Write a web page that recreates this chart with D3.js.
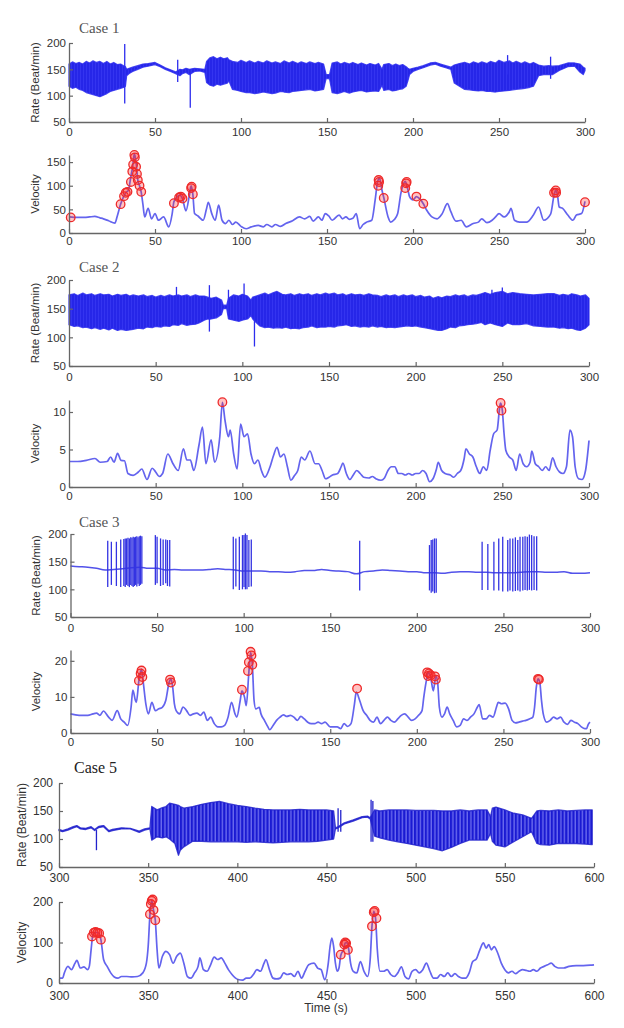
<!DOCTYPE html>
<html><head><meta charset="utf-8">
<script src="https://cdn.jsdelivr.net/npm/d3@7"></script>
<style>
html,body{margin:0;padding:0;background:#fff;}
svg{display:block;}
.tick text{font-family:"Liberation Sans",Arial,sans-serif;fill:#333;}
</style></head>
<body><svg id="chart" width="624" height="1028"></svg>
<script>
// ---------------- DATA ----------------
const caseTitles = ["Case 1", "Case 2", "Case 3", "Case 5"];
const xTicks300 = [0, 50, 100, 150, 200, 250, 300];
const xTicks600 = [300, 350, 400, 450, 500, 550, 600];
const rateTicks = [50, 100, 150, 200];
const case1VelTicks = [0, 50, 100, 150];
const case2VelTicks = [0, 5, 10];
const case3VelTicks = [0, 10, 20];
const case5VelTicks = [0, 100, 200];

// Rate envelopes: [time, low, high]
const case1RateBand = [[0,118,160],[2,114,164],[4,116,161],[6,112,163],[8,110,160],[10,106,165],[12,104,162],[14,102,166],[16,100,163],[18,98,165],[20,101,161],[22,104,165],[24,108,160],[26,110,163],[28,112,159],[30,114,160],[32,116,156],[32.8,118,155],[33.5,138,150],[35,142,152],[37,146,154],[40,150,157],[43,154,160],[46,156,161],[50,159,163],[53,155,158],[56,150,153],[59,146,149],[62,142,145],[64.5,138,150],[66,142,149],[68,144,152],[70,140,150],[73,146,152],[76,147,151],[79,144,150],[80,125,165],[82,120,172],[84,118,174],[86,122,170],[88,120,173],[90,122,170],[92,124,172],[93,128,168],[95,112,165],[98,110,163],[100,108,167],[103,106,163],[105,106,166],[108,104,162],[110,105,165],[113,107,162],[115,106,166],[118,104,162],[120,105,164],[123,108,161],[125,107,166],[128,106,162],[130,108,165],[133,109,161],[135,110,164],[138,111,161],[140,112,164],[143,109,161],[145,110,163],[148,112,160],[149.5,133,140],[151.5,132,140],[153,106,162],[156,104,164],[158,106,160],[160,108,163],[163,105,160],[165,107,163],[168,109,159],[170,110,162],[173,107,158],[175,108,161],[178,109,158],[180,108,161],[182,120,150],[183,110,159],[186,112,161],[188,109,157],[190,110,160],[192,112,157],[194,113,159],[196,118,155],[197,128,152],[198,140,150],[200,146,152],[203,150,154],[206,153,157],[210,158,162],[213,160,163],[216,156,160],[219,153,157],[222,150,154],[224,124,158],[227,118,161],[230,112,163],[233,111,160],[235,110,164],[238,109,161],[240,110,164],[243,108,161],[245,108,165],[248,107,162],[250,108,167],[253,109,163],[256,110,166],[258,111,162],[260,112,165],[263,113,161],[265,114,164],[268,116,160],[270,118,163],[273,138,158],[276,140,156],[279,140,157],[281,140,156],[285,148,157],[290,155,162],[294,156,162],[297,145,160],[299,140,154],[300,148,152]];
const case1RateSpikes = [[32.4,85,198],[63.2,126,168],[70.5,77,150],[255,140,177],[280,132,174]];

const case2RateBand = [[0,122,174],[3,119,176],[5,120,173],[8,117,177],[10,118,174],[13,115,176],[15,117,173],[18,114,176],[20,116,174],[23,113,175],[25,116,172],[28,112,175],[30,114,173],[33,112,175],[35,113,172],[37,114,174],[40,116,172],[43,115,174],[45,118,171],[48,117,173],[50,119,170],[53,118,173],[55,120,171],[58,119,174],[60,122,172],[63,121,174],[65,124,172],[68,121,174],[70,122,171],[73,123,174],[75,125,172],[78,130,172],[80,132,170],[82,132,168],[85,134,170],[88,140,165],[89,150,156],[91,150,156],[92,132,168],[95,130,174],[98,128,172],[100,130,175],[103,132,172],[105,138,165],[106,132,170],[108,126,172],[110,120,174],[113,117,177],[115,118,174],[118,116,178],[120,117,180],[123,116,175],[125,118,174],[128,115,176],[130,116,173],[133,115,176],[135,117,174],[138,118,176],[140,120,173],[143,117,176],[145,118,174],[148,118,177],[150,119,175],[153,118,177],[155,120,174],[158,121,176],[160,122,173],[163,119,176],[165,120,174],[168,118,175],[170,119,173],[173,118,176],[175,120,174],[178,118,173],[180,119,171],[183,117,174],[185,118,172],[188,117,174],[190,118,171],[193,119,174],[195,120,172],[198,119,174],[200,120,171],[203,118,173],[205,117,170],[208,115,172],[210,114,168],[213,112,171],[215,112,169],[218,115,172],[220,118,171],[223,117,174],[225,120,172],[228,121,174],[230,122,171],[233,123,174],[235,124,173],[238,126,176],[240,122,178],[243,125,175],[246,122,178],[250,119,180],[253,125,176],[256,122,178],[260,122,176],[264,124,175],[268,120,174],[272,119,175],[276,118,176],[280,118,176],[283,116,173],[285,117,175],[288,115,173],[290,116,176],[293,113,174],[295,112,172],[298,116,174],[300,122,168]];
const case2RateSpikes = [[62,128,188],[81,110,191],[92,140,183],[101,135,194],[107,84,170],[244,130,183],[250,125,187]];

const case3RateLine = [[0,142],[5,141],[10,140],[15,138],[20,135],[25,136],[30,137],[35,139],[40,140],[45,138],[50,138],[55,135],[60,136],[65,135],[70,135],[75,135],[80,136],[85,137],[90,136],[95,135],[100,133],[105,133],[110,133],[115,132],[120,132],[125,131],[130,132],[135,134],[140,134],[145,136],[150,134],[155,133],[160,132],[165,128],[170,132],[175,133],[180,135],[185,134],[190,133],[195,132],[200,132],[205,130],[210,130],[215,129],[220,131],[225,132],[230,132],[235,131],[240,131],[245,130],[250,130],[255,130],[260,131],[265,132],[270,132],[275,131],[280,131],[285,132],[290,129],[295,129],[300,130]];
const case3RateSpikes = [[21.5,104,188],[23.6,108,186],[26.5,106,186],[29,104,190],[30.8,106,191],[31.6,104,192],[32.4,108,192],[33.2,106,193],[34,104,192],[34.8,108,194],[35.5,106,193],[36.2,104,195],[36.9,106,194],[37.6,108,195],[38.3,105,196],[39,110,194],[39.7,106,196],[40.4,108,197],[41.2,110,196],[49,108,198],[50,111,195],[52,106,192],[53.5,108,190],[55,111,190],[56,106,189],[57.3,105,189],[94,100,195],[95.5,105,192],[97.5,99,195],[99.3,100,198],[100.2,104,198],[101,100,201],[101.9,100,198],[103,104,189],[104.4,105,190],[167,98,188],[207.3,98,180],[208.3,94,189],[209.2,96,190],[210.2,93,192],[211.2,94,192],[237.7,99,186],[241,99,182],[244.5,98,186],[247.3,98,192],[249.6,96,195],[252.5,96,189],[253.8,98,192],[255.4,96,192],[256.9,97,194],[258.3,98,189],[259.6,96,195],[261.2,98,195],[262.5,99,196],[263.8,98,195],[265,99,199],[266.3,98,198],[267.7,99,196],[269.2,98,196]];

const case5RateBand = [[300,115,117],[302,113,115],[305,116,118],[308,120,122],[310,122,124],[312,118,120],[315,117,119],[318,120,122],[320,115,117],[322,120,122],[323,121,123],[325,122,124],[328,113,115],[330,115,117],[335,118,120],[340,118,119],[345,112,114],[348,116,118],[351,118,120],[352,98,158],[355,104,152],[358,102,156],[360,104,158],[362,100,164],[365,92,162],[367,71,160],[368,80,158],[370,86,155],[375,96,158],[380,96,162],[385,95,165],[390,95,167],[395,95,163],[400,95,160],[405,94,158],[410,95,155],[415,94,153],[420,93,152],[425,94,152],[430,95,152],[435,95,153],[440,95,152],[445,96,152],[450,98,152],[454,100,150],[455,118,120],[456,119,121],[460,127,129],[465,132,134],[470,138,140],[473,139,141],[474.5,136,138],[477,105,152],[480,102,150],[485,98,152],[490,95,152],[495,92,152],[500,89,151],[505,86,151],[510,83,151],[515,79,150],[520,85,150],[525,92,152],[530,98,150],[535,98,152],[540,98,152],[542,110,140],[543,96,155],[545,89,157],[550,86,152],[555,95,146],[560,104,143],[565,113,137],[568,92,150],[570,90,151],[575,89,150],[580,92,152],[585,92,150],[590,92,151],[595,91,152],[599,90,152]];
const case5RateSpikes = [[321,80,116],[456.5,113,155],[458,113,152],[475,95,170],[476,95,168]];

// Velocity series: [time, value]
const case1Velocity = [[0,34],[3,33],[6,33],[9,33],[12,34],[15,35],[18,32],[20,30],[23,26],[26.7,21],[28,35],[30,61],[31.5,75],[33,85],[34.5,90],[36,120],[37,140],[38,168],[39,150],[40,112],[41,100],[42,86],[43,60],[44,34],[46,52],[48,30],[50,41],[52,27],[55,34],[58,13],[60,41],[61,66],[63,77],[64.5,80],[66,72],[68,47],[70,80],[71,100],[72,82],[73,41],[75,36],[78,27],[80,52],[81,65],[83,41],[85,27],[87,59],[89,27],[91,20],[93,27],[95,18],[97,23],[100,14],[103,9],[106,13],[110,16],[113,13],[115,18],[118,13],[120,18],[123,14],[126,20],[130,26],[134,34],[137,30],[140,35],[142,25],[145,34],[147,27],[149,41],[151,36],[153,27],[157,38],[159,30],[161,34],[163,29],[165,31],[167,41],[169,9],[171,18],[173,23],[176,27],[178,70],[179.5,110],[180.5,116],[182,90],[183,75],[185.5,34],[187,23],[189,28],[191,40],[193,85],[195.5,109],[197,92],[198,77],[200,70],[202,77],[204,72],[206,62],[208,48],[211,34],[214,30],[217,41],[220,62],[222,45],[225,25],[228,27],[231,13],[235,20],[238,23],[240,30],[243,22],[246,27],[248,34],[250,41],[253,34],[256,45],[257,52],[259,27],[262,23],[266,23],[270,38],[273,55],[276,27],[280,40],[282,80],[283,91],[284,80],[285,55],[287,52],[290,38],[293,27],[295,38],[298,41],[300,67]];
const case1Peaks = [[1,33],[30,61],[32,78],[33,85],[34,87],[36,108],[36.8,130],[37.3,145],[38,165],[38.3,160],[39,140],[39.5,125],[40,112],[41,100],[42,87],[61,63],[64,75],[65,77],[66,73],[71,95],[71.3,98],[72,82],[180,112],[180.3,108],[179.8,100],[183,74],[196,105],[196.3,108],[195.5,95],[202,77],[206,62],[282,85],[283,90],[283.2,85],[300,65]];

const case2Velocity = [[0,3.4],[5,3.4],[10,3.55],[15,3.8],[18,3.3],[22,3.4],[24,4.0],[26,3.3],[28,4.5],[30,3.55],[32,3.5],[34,1.8],[37,1.55],[40,2.0],[42,2.4],[45,1.0],[48,2.5],[50,2.0],[52,1.4],[54,1.8],[57,4.4],[60,3.1],[63,2.2],[66,5.1],[68,3.6],[70,3.6],[72,2.2],[75,5.6],[77,8.0],[79,3.1],[82,6.3],[84,3.3],[87,6.7],[88.5,11.3],[90,8.9],[92,6.7],[93,7.6],[95,4.4],[97,2.4],[99,8.4],[101,6.7],[103,7.1],[105,4.4],[107,3.1],[109,3.6],[111,2.2],[113,1.3],[116,2.7],[118,4.2],[120,5.3],[122,4.0],[124,4.4],[126,2.7],[128,0.9],[130,1.5],[132,2.2],[134,4.0],[136,3.6],[139,4.8],[142,3.1],[144,3.1],[146,2.2],[148,1.1],[150,1.3],[152,1.6],[155,1.8],[157,2.7],[158,3.2],[160,1.8],[162,1.0],[164,1.6],[166,2.2],[168,1.8],[170,1.3],[173,1.2],[175,1.4],[177,1.1],[180,0.9],[182,1.2],[184,2.2],[186,2.7],[188,2.7],[190,1.8],[192,1.8],[194,1.6],[196,1.8],[198,1.6],[200,1.8],[202,1.8],[204,2.2],[206,1.8],[208,0.7],[210,1.1],[212,2.4],[213,3.3],[215,2.2],[217,1.8],[220,1.6],[222,1.3],[224,1.8],[226,2.2],[228,3.8],[229,5.1],[231,4.4],[233,4.0],[235,2.7],[237,1.8],[239,2.7],[241,2.2],[243,4.9],[245,7.1],[247,7.6],[248.5,10.7],[249,11.2],[250,10.2],[251,7.1],[252,4.9],[254,4.0],[256,3.6],[258,2.2],[260,4.4],[262,3.1],[264,2.7],[266,3.3],[267,4.8],[269,3.1],[271,2.7],[273,2.2],[275,2.7],[277,2.2],[279,3.9],[281,2.7],[283,2.0],[285,1.8],[287,2.7],[289,7.6],[290.5,6.7],[292,2.7],[294,1.1],[296,1.0],[298,2.2],[300,6.2]];
const case2Peaks = [[88.5,11.3],[249,11.2],[249.5,10.2]];

const case3Velocity = [[0,5.3],[5,4.9],[10,4.9],[13,5.3],[15,5.5],[17,4.9],[19,6.1],[22,4.4],[24,3.5],[27,6.2],[29,3.9],[31,3.0],[33,2.1],[35,7.2],[36,11.9],[37.5,9.0],[38,8.5],[39.5,14.5],[41,17.7],[42,14.1],[43.5,8.1],[45,5.3],[47,8.5],[49,6.2],[51,6.7],[53,7.1],[55,9.0],[57,14.1],[58,15.0],[59,12.7],[60,8.1],[61,6.2],[63,5.3],[65,7.2],[67,6.2],[69,4.9],[71,5.3],[73,5.5],[75,4.9],[77,5.8],[79,3.5],[81,4.4],[83,2.6],[85,1.7],[87,1.7],[89,2.1],[91,4.4],[93,8.5],[95,5.3],[96,4.4],[98,9.0],[99,11.7],[100.5,9.9],[101.5,7.6],[103,16.8],[104,22.3],[105,19.1],[106,9.0],[107,6.7],[109,7.1],[110,5.3],[112,3.5],[114,1.7],[115,0.9],[117,2.1],[119,3.5],[121,4.4],[123,5.0],[125,4.6],[127,4.9],[129,4.4],[131,3.5],[133,4.6],[135,3.9],[137,3.0],[139,2.6],[141,2.6],[143,3.0],[145,2.6],[147,3.0],[150,1.7],[152,1.7],[154,1.7],[156,1.2],[158,2.6],[160,1.8],[162,2.6],[164,8.1],[165,11.3],[167,9.0],[169,6.2],[171,4.9],[173,3.5],[175,3.0],[177,4.4],[179,2.6],[181,3.5],[183,4.4],[185,3.5],[187,3.0],[189,3.9],[191,4.9],[193,5.3],[195,4.4],[197,3.5],[199,3.9],[201,4.9],[203,6.2],[204,9.9],[205.5,14.5],[206.5,16.8],[208,15.4],[209.5,11.7],[211,15.8],[212,14.1],[213,7.2],[214.5,4.4],[216,5.3],[217.5,7.2],[219,5.3],[221,3.5],[223,1.7],[225,2.1],[227,3.9],[229,3.5],[231,4.4],[233,5.3],[235,7.2],[236,7.9],[238,3.9],[240,3.9],[242,4.9],[244,4.4],[246,7.2],[247,8.5],[249,8.1],[251,8.3],[253,6.7],[255,3.5],[257,2.8],[259,3.0],[261,3.3],[263,3.5],[265,3.9],[267,4.4],[268,7.2],[269,12.7],[270,15.0],[271,14.1],[272,9.0],[273,5.3],[275,3.0],[277,3.5],[279,4.4],[281,3.9],[283,4.4],[285,3.0],[287,2.4],[289,3.5],[291,3.0],[293,2.6],[295,1.7],[297,1.2],[298,1.2],[299,2.4],[300,3.0]];
const case3Peaks = [[39.5,14.5],[40.5,16.5],[41,17.3],[41.5,15.5],[57.5,14.8],[58,14],[99,12],[102.5,17.2],[103,19.6],[104,22.5],[104.5,21.5],[105,18.9],[165.5,12.3],[206,16.8],[206.5,15.8],[207,16.5],[208,16],[210.5,15.7],[211,14.8],[270,15],[270.5,14.8]];

const case5Velocity = [[300,12],[302,12],[303,25],[305,41],[307,33],[309,49],[310,56],[312,37],[314,40],[316,33],[317,41],[318,82],[319,119],[320.5,125],[322,124],[323.5,107],[325,58],[327,41],[329,25],[331,15],[333,12],[335,16],[338,16],[341,15],[344,16],[347,25],[349,49],[350,90],[351,169],[352,204],[353,180],[354,155],[355,82],[356,37],[358,66],[360,78],[362,70],[364,49],[366,66],[368,74],[370,49],[372,16],[374,12],[376,25],[378,41],[379,62],[381,33],[383,29],[385,45],[387,64],[389,58],[391,62],[393,49],[395,33],[397,21],[399,12],[401,8],[403,7],[405,12],[407,12],[409,21],[411,33],[413,29],[415,49],[416,58],[418,33],[420,12],[422,10],[424,12],[426,25],[428,21],[430,23],[432,16],[434,29],[436,12],[438,29],[440,45],[443,49],[445,37],[447,33],[449,8],[451,49],[452,90],[453,111],[454,90],[455,49],[456,29],[457,37],[458,68],[459.5,82],[460.5,99],[461.5,100],[462.5,82],[463.5,49],[465,29],[467,25],[469,53],[471,29],[473,16],[474.5,58],[475.5,140],[476.5,177],[477.5,160],[478.5,82],[480,29],[482,29],[484,33],[486,21],[488,16],[490,25],[492,40],[494,16],[496,10],[498,29],[500,33],[502,25],[504,33],[506,49],[508,29],[510,12],[512,12],[514,21],[516,16],[518,25],[520,16],[522,23],[524,16],[526,12],[528,12],[530,25],[532,53],[534,59],[536,82],[538,99],[539.5,86],[541,95],[542.5,82],[544,90],[546,74],[548,49],[550,33],[552,25],[554,29],[556,23],[558,29],[560,33],[562,31],[564,29],[566,33],[568,29],[570,37],[572,41],[574,45],[576,49],[578,41],[580,37],[583,37],[586,41],[590,43],[594,43],[598,44],[600,45]];
const case5Peaks = [[318.5,115],[319.5,124],[320.5,126],[321.5,124],[322.5,123],[323.5,107],[351,170],[351.5,195],[352,203],[352.5,206],[353,180],[354,155],[458,70],[460,95],[460.5,100],[461,98],[462,82],[475.5,140],[476.5,175],[477,178],[478,160]];

// ---------------- LAYOUT ----------------
const svg = d3.select("#chart");
const FONT = '"Liberation Sans", Arial, sans-serif';
const SERIF = '"Liberation Serif", "Times New Roman", serif';
const AXIS = "#666";

const defs = svg.append("defs");
const p1 = defs.append("pattern").attr("id", "denseBand").attr("patternUnits", "userSpaceOnUse")
  .attr("width", 3).attr("height", 6);
p1.append("rect").attr("width", 3).attr("height", 6).attr("fill", "#3434f0");
p1.append("rect").attr("width", 2).attr("height", 6).attr("fill", "#2626e8");
const p5 = defs.append("pattern").attr("id", "stripeBand").attr("patternUnits", "userSpaceOnUse")
  .attr("width", 3.6).attr("height", 6);
p5.append("rect").attr("width", 3.6).attr("height", 6).attr("fill", "#6a6aee");
p5.append("rect").attr("width", 2.2).attr("height", 6).attr("fill", "#1a1ad2");

const panels = [
  {kind:"rate", band:case1RateBand, spikes:case1RateSpikes, xr:[69,585], yr:[122,43], xd:[0,300], yd:[50,200], xt:xTicks300, yt:rateTicks, gap:6, lab:"Rate (Beat/min)", labX:35, fs:11.5, fill:"url(#denseBand)", bandColor:"#2d2dee"},
  {kind:"vel", line:case1Velocity, peaks:case1Peaks, xr:[69,585], yr:[233,155], xd:[0,300], yd:[0,165], xt:xTicks300, yt:case1VelTicks, gap:4, lab:"Velocity", labX:35, fs:11.5},
  {kind:"rate", band:case2RateBand, spikes:case2RateSpikes, xr:[69,589], yr:[366,280], xd:[0,300], yd:[50,200], xt:xTicks300, yt:rateTicks, gap:7, lab:"Rate (Beat/min)", labX:35, fs:11.5, fill:"url(#denseBand)", bandColor:"#2d2dee"},
  {kind:"vel", line:case2Velocity, peaks:case2Peaks, xr:[69,589], yr:[487,400], xd:[0,300], yd:[0,11.6], xt:xTicks300, yt:case2VelTicks, gap:5, lab:"Velocity", labX:35, fs:11.5},
  {kind:"rate", rline:case3RateLine, spikes:case3RateSpikes, xr:[70.5,590], yr:[617,534], xd:[0,300], yd:[50,200], xt:xTicks300, yt:rateTicks, gap:7, lab:"Rate (Beat/min)", labX:36, fs:11.5, bandColor:"#3434e2"},
  {kind:"vel", line:case3Velocity, peaks:case3Peaks, xr:[70.5,590], yr:[733,650], xd:[0,300], yd:[0,23], xt:xTicks300, yt:case3VelTicks, gap:5, lab:"Velocity", labX:36, fs:11.5},
  {kind:"rate", band:case5RateBand, spikes:case5RateSpikes, xr:[59,594], yr:[867,783], xd:[300,600], yd:[50,200], xt:xTicks600, yt:rateTicks, gap:6, lab:"Rate (Beat/min)", labX:22, fs:12, fill:"url(#stripeBand)", bandColor:"#2222cc"},
  {kind:"vel", line:case5Velocity, peaks:case5Peaks, xr:[59,594], yr:[983,902], xd:[300,600], yd:[0,200], xt:xTicks600, yt:case5VelTicks, gap:8, lab:"Velocity", labX:22, fs:12}
];

const titlePos = [
  {x:79, y:33, size:15, color:"#555"},
  {x:79, y:272, size:15, color:"#555"},
  {x:79, y:527, size:15, color:"#555"},
  {x:74, y:773, size:16, color:"#222"}
];

caseTitles.forEach((t, i) => {
  svg.append("text").attr("x", titlePos[i].x).attr("y", titlePos[i].y)
    .attr("font-family", SERIF).attr("font-size", titlePos[i].size)
    .attr("fill", titlePos[i].color).text(t);
});

panels.forEach(p => {
  const x = d3.scaleLinear().domain(p.xd).range(p.xr);
  const y = d3.scaleLinear().domain(p.yd).range(p.yr);
  const g = svg.append("g");

  if (p.kind === "rate") {
    if (p.band) {
      g.append("path").datum(p.band)
        .attr("d", d3.area().x(d => x(d[0])).y0(d => y(d[1])).y1(d => y(d[2])))
        .attr("fill", p.fill)
        .attr("stroke", p.bandColor).attr("stroke-width", 1.3).attr("stroke-opacity", 0.85)
        .attr("stroke-linejoin", "round");
    }
    if (p.rline) {
      g.append("path").datum(p.rline)
        .attr("d", d3.line().x(d => x(d[0])).y(d => y(d[1])).curve(d3.curveMonotoneX))
        .attr("fill", "none").attr("stroke", "#5252ea").attr("stroke-width", 1.5);
    }
    g.selectAll("line.spike").data(p.spikes).join("line").attr("class", "spike")
      .attr("x1", d => x(d[0])).attr("x2", d => x(d[0]))
      .attr("y1", d => y(d[1])).attr("y2", d => y(d[2]))
      .attr("stroke", p.bandColor).attr("stroke-width", 1.3);
  } else {
    g.append("path").datum(p.line)
      .attr("d", d3.line().x(d => x(d[0])).y(d => y(d[1])).curve(d3.curveMonotoneX))
      .attr("fill", "none").attr("stroke", "#6464ee").attr("stroke-width", 1.7)
      .attr("stroke-linejoin", "round");
    g.selectAll("circle.pk").data(p.peaks).join("circle").attr("class", "pk")
      .attr("cx", d => x(d[0])).attr("cy", d => y(d[1])).attr("r", 4.3)
      .attr("fill", "rgba(255,40,40,0.28)").attr("stroke", "#ee2a2a").attr("stroke-width", 1.3);
  }

  const xa = g.append("g").attr("transform", `translate(0,${p.yr[0]})`)
    .call(d3.axisBottom(x).tickValues(p.xt).tickSizeInner(-4).tickSizeOuter(0).tickPadding(p.gap));
  const ya = g.append("g").attr("transform", `translate(${p.xr[0]},0)`)
    .call(d3.axisLeft(y).tickValues(p.yt).tickSizeInner(-4).tickSizeOuter(0).tickPadding(3));
  [xa, ya].forEach(a => {
    a.select(".domain").attr("stroke", AXIS).attr("stroke-width", 1.3);
    a.selectAll(".tick line").attr("stroke", AXIS).attr("stroke-width", 1.2);
    a.selectAll(".tick text").attr("font-size", p.fs).attr("font-family", FONT).attr("fill", "#333");
  });
  if (p.xd[0] === 300) ya.selectAll(".tick text").attr("x", -6);

  const cy = (p.yr[0] + p.yr[1]) / 2;
  svg.append("text").attr("transform", `translate(${p.labX},${cy}) rotate(-90)`)
    .attr("text-anchor", "middle").attr("dy", "0.35em")
    .attr("font-family", FONT).attr("font-size", p.fs).attr("fill", "#333").text(p.lab);
});

svg.append("text").attr("x", 326).attr("y", 1012).attr("text-anchor", "middle")
  .attr("font-family", FONT).attr("font-size", 12).attr("fill", "#333").text("Time (s)");
</script>
</body></html>
